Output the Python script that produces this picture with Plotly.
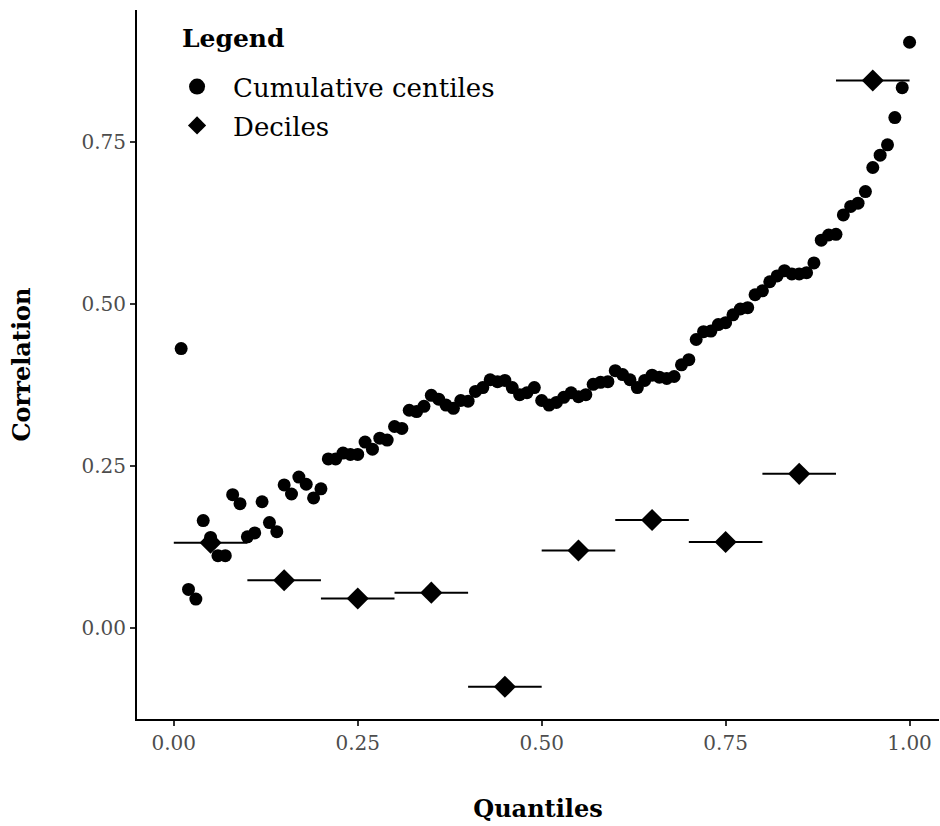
import plotly.graph_objects as go

centile_q = [round(0.01 * i, 2) for i in range(1, 101)]
centile_corr = [
    0.431, 0.060, 0.045, 0.166, 0.140, 0.112, 0.112, 0.206, 0.192, 0.141,
    0.147, 0.195, 0.163, 0.149, 0.221, 0.207, 0.233, 0.222, 0.201, 0.215,
    0.261, 0.261, 0.270, 0.268, 0.268, 0.287, 0.276, 0.293, 0.290, 0.311,
    0.308, 0.336, 0.334, 0.342, 0.359, 0.353, 0.344, 0.339, 0.351, 0.350,
    0.365, 0.371, 0.383, 0.380, 0.382, 0.371, 0.360, 0.363, 0.371, 0.351,
    0.344, 0.348, 0.356, 0.363, 0.357, 0.360, 0.376, 0.379, 0.380, 0.397,
    0.391, 0.383, 0.371, 0.382, 0.390, 0.387, 0.385, 0.388, 0.406, 0.414,
    0.445, 0.457, 0.458, 0.468, 0.471, 0.483, 0.492, 0.494, 0.514, 0.520,
    0.534, 0.543, 0.551, 0.546, 0.546, 0.548, 0.563, 0.598, 0.606, 0.607,
    0.637, 0.650, 0.655, 0.673, 0.710, 0.729, 0.745, 0.787, 0.833, 0.903,
]

decile_mid = [0.05, 0.15, 0.25, 0.35, 0.45, 0.55, 0.65, 0.75, 0.85, 0.95]
decile_halfwidth = [0.05] * 10
decile_corr = [0.132, 0.074, 0.046, 0.055, -0.090, 0.120, 0.167, 0.133, 0.238, 0.844]

x_ticks = [0.0, 0.25, 0.5, 0.75, 1.0]
x_tick_text = ["0.00", "0.25", "0.50", "0.75", "1.00"]
y_ticks = [0.0, 0.25, 0.5, 0.75]
y_tick_text = ["0.00", "0.25", "0.50", "0.75"]

FONT = "DejaVu Serif"

fig = go.Figure()
fig.add_trace(go.Scatter(
    x=centile_q, y=centile_corr, mode="markers", name="Cumulative centiles",
    marker=dict(symbol="circle", size=13, color="black"), showlegend=False,
))
fig.add_trace(go.Scatter(
    x=decile_mid, y=decile_corr, mode="markers", name="Deciles",
    marker=dict(symbol="diamond", size=17, color="black"), showlegend=False,
    error_x=dict(type="data", array=decile_halfwidth, symmetric=True,
                 width=0, thickness=2, color="black"),
))
# legend-only entries (larger symbols, as in the reference key)
fig.add_trace(go.Scatter(
    x=[None], y=[None], mode="markers", name="Cumulative centiles",
    marker=dict(symbol="circle", size=16, color="black"), legendgroup="a",
))
fig.add_trace(go.Scatter(
    x=[None], y=[None], mode="markers", name="Deciles",
    marker=dict(symbol="diamond", size=14, color="black"), legendgroup="b",
))

axis_common = dict(
    showgrid=False, zeroline=False, showline=True, linecolor="black", linewidth=2,
    ticks="outside", ticklen=5, tickwidth=1.5, tickcolor="#333333",
    tickfont=dict(family=FONT, size=20, color="#4D4D4D"),
)

fig.update_layout(
    width=940, height=826,
    margin=dict(l=137, r=1, t=10, b=107),
    paper_bgcolor="white", plot_bgcolor="white",
    font=dict(family=FONT, color="black"),
    xaxis=dict(range=[-0.05, 1.04], tickvals=x_ticks, ticktext=x_tick_text,
               title=dict(text="<b>Quantiles</b>", font=dict(family=FONT, size=24), standoff=46),
               **axis_common),
    yaxis=dict(range=[-0.1397, 0.9527], tickvals=y_ticks, ticktext=y_tick_text,
               title=dict(text="<b>Correlation</b>", font=dict(family=FONT, size=24), standoff=44),
               **axis_common),
    legend=dict(
        x=0.030, y=0.925, xanchor="left", yanchor="top",
        font=dict(family=FONT, size=26), bgcolor="rgba(0,0,0,0)",
        itemsizing="trace", itemwidth=62, traceorder="grouped", tracegroupgap=2,
    ),
    annotations=[dict(
        text="<b>Legend</b>", xref="paper", yref="paper", x=0.053, y=0.9605,
        xanchor="left", yanchor="middle", showarrow=False,
        font=dict(family=FONT, size=25, color="black"),
    )],
    showlegend=True,
)

fig.write_html("out.html")
